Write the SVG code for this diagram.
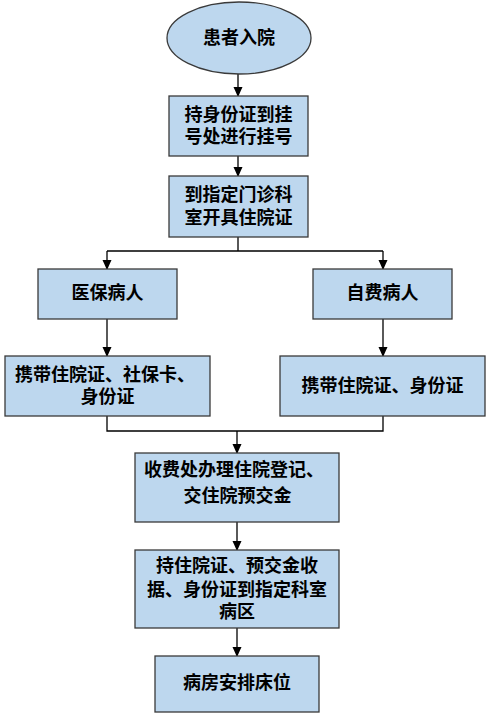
<svg xmlns="http://www.w3.org/2000/svg" width="491" height="720" viewBox="0 0 491 720">
<defs>
<marker id="ah" markerWidth="10" markerHeight="10" refX="9" refY="5" orient="auto" markerUnits="userSpaceOnUse">
<path d="M0,0.5 L10,5 L0,9.5 Z" fill="#000"/>
</marker>
<style>
.n{fill:#BDD7EE;stroke:#3a3a3a;stroke-width:1.3}
.t{font-family:"Noto Sans CJK SC","Noto Sans",sans-serif;font-weight:bold;font-size:18px;fill:#000;text-anchor:middle}
.c{fill:none;stroke:#000;stroke-width:1.3}
</style>
</defs>
<rect width="491" height="720" fill="#fff"/>
<g id="connectors">
<path class="c" d="M238,74 V96" marker-end="url(#ah)"/>
<path class="c" d="M238,156 V176" marker-end="url(#ah)"/>
<path class="c" d="M238,237 V251 M107,251 H383"/>
<path class="c" d="M107,251 V269" marker-end="url(#ah)"/>
<path class="c" d="M383,251 V269" marker-end="url(#ah)"/>
<path class="c" d="M107,319 V356" marker-end="url(#ah)"/>
<path class="c" d="M383,319 V356" marker-end="url(#ah)"/>
<path class="c" d="M107,416 V431 H383 V416"/>
<path class="c" d="M237,431 V453" marker-end="url(#ah)"/>
<path class="c" d="M237,522 V550" marker-end="url(#ah)"/>
<path class="c" d="M237,628 V656" marker-end="url(#ah)"/>
</g>
<g id="start">
<ellipse class="n" cx="239" cy="38" rx="72" ry="36"/>
<text class="t" x="239" y="44">患者入院</text>
</g>
<g id="register">
<rect class="n" x="169" y="96" width="139" height="60"/>
<text class="t" x="238.5" y="121">持身份证到挂<tspan x="238.5" dy="22">号处进行挂号</tspan></text>
</g>
<g id="clinic">
<rect class="n" x="169" y="176" width="139" height="61"/>
<text class="t" x="238.5" y="201">到指定门诊科<tspan x="238.5" dy="23">室开具住院证</tspan></text>
</g>
<g id="insured">
<rect class="n" x="38" y="269" width="139" height="50"/>
<text class="t" x="107.5" y="299">医保病人</text>
</g>
<g id="selfpay">
<rect class="n" x="313" y="269" width="139" height="50"/>
<text class="t" x="382.5" y="299">自费病人</text>
</g>
<g id="insured-docs">
<rect class="n" x="5" y="356" width="205" height="60"/>
<text class="t" x="105" y="381">携带住院证、社保卡、<tspan x="107.5" dy="22">身份证</tspan></text>
</g>
<g id="selfpay-docs">
<rect class="n" x="280" y="356" width="205" height="60"/>
<text class="t" x="382.5" y="392">携带住院证、身份证</text>
</g>
<g id="payment">
<rect class="n" x="135" y="453" width="204" height="69"/>
<text class="t" x="234" y="476">收费处办理住院登记、<tspan x="237.5" dy="26">交住院预交金</tspan></text>
</g>
<g id="ward">
<rect class="n" x="135" y="550" width="204" height="78"/>
<text class="t" x="237" y="572">持住院证、预交金收<tspan x="237" dy="24">据、身份证到指定科室</tspan><tspan x="237" dy="22">病区</tspan></text>
</g>
<g id="bed">
<rect class="n" x="155" y="656" width="164" height="56"/>
<text class="t" x="237" y="689">病房安排床位</text>
</g>
</svg>
